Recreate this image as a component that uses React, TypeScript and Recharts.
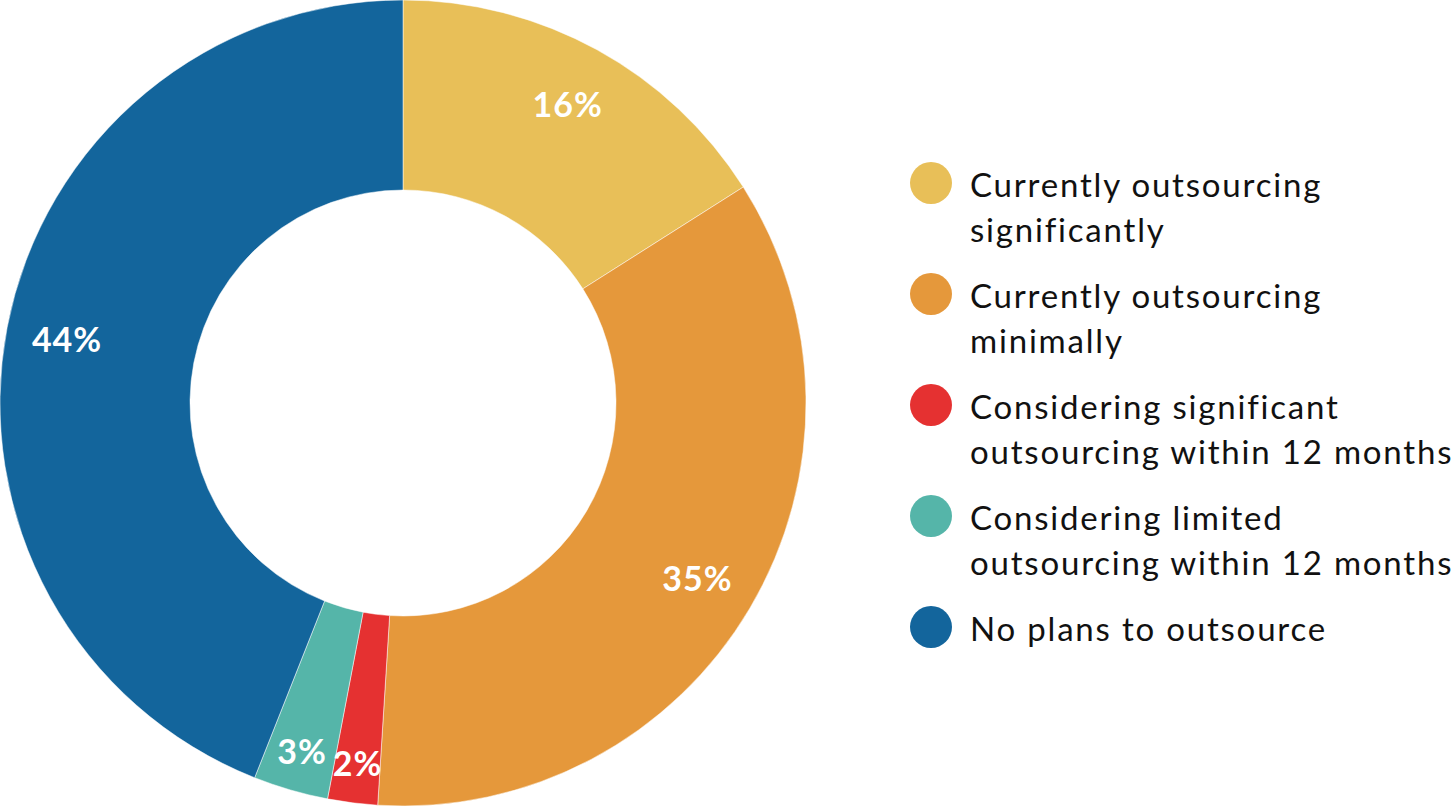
import { Cell, Legend, Pie, PieChart } from 'recharts';

const CATEGORIES = [
  'Currently outsourcing\nsignificantly',
  'Currently outsourcing\nminimally',
  'Considering significant\noutsourcing within 12 months',
  'Considering limited\noutsourcing within 12 months',
  'No plans to outsource',
];
const VALUES = [16, 35, 2, 3, 44];
const COLORS = ['#E8BF58', '#E5983B', '#E53131', '#55B5A9', '#13659C'];

const FONT = 'Lato, "Open Sans", sans-serif';
const RADIAN = Math.PI / 180;

const data = CATEGORIES.map((name, i) => ({ name, value: VALUES[i] }));

function renderLabel(props: any) {
  const { cx, cy, midAngle, value } = props;
  // small slices get their labels pushed out toward the rim
  const r = value < 5 ? 362 : 342;
  const x = cx + r * Math.cos(-midAngle * RADIAN);
  const y = cy + r * Math.sin(-midAngle * RADIAN);
  return (
    <text
      x={x}
      y={y}
      fill="#fff"
      textAnchor="middle"
      dominantBaseline="central"
      fontFamily={FONT}
      fontWeight={700}
      fontSize={34}
      letterSpacing={1}
    >
      {`${value}%`}
    </text>
  );
}

function renderLegend() {
  return (
    <div style={{ fontFamily: FONT, fontSize: 33, color: '#111', lineHeight: '45px', letterSpacing: 1.8 }}>
      {data.map((item, i) => (
        <div key={item.name} style={{ display: 'flex', alignItems: 'flex-start', marginBottom: 21 }}>
          <span
            style={{
              width: 42,
              height: 42,
              borderRadius: '50%',
              background: COLORS[i],
              flexShrink: 0,
              marginRight: 18,
            }}
          />
          <span style={{ whiteSpace: 'pre-line' }}>{item.name}</span>
        </div>
      ))}
    </div>
  );
}

export default function App() {
  return (
    <div style={{ position: 'absolute', left: 0, top: 0, width: 1456, height: 807, background: '#fff' }}>
      <PieChart width={1456} height={807} margin={{ top: 0, right: 0, bottom: 0, left: 0 }}>
        <Pie
          data={data}
          dataKey="value"
          nameKey="name"
          cx={403}
          cy={403}
          innerRadius={213}
          outerRadius={403}
          startAngle={90}
          endAngle={-270}
          stroke="#fff"
          strokeWidth={0.5}
          label={renderLabel}
          labelLine={false}
          isAnimationActive={false}
        >
          {data.map((_, i) => (
            <Cell key={i} fill={COLORS[i]} />
          ))}
        </Pie>
        <Legend
          layout="vertical"
          content={renderLegend}
          wrapperStyle={{ left: 910, top: 162, width: 546 }}
        />
      </PieChart>
    </div>
  );
}
